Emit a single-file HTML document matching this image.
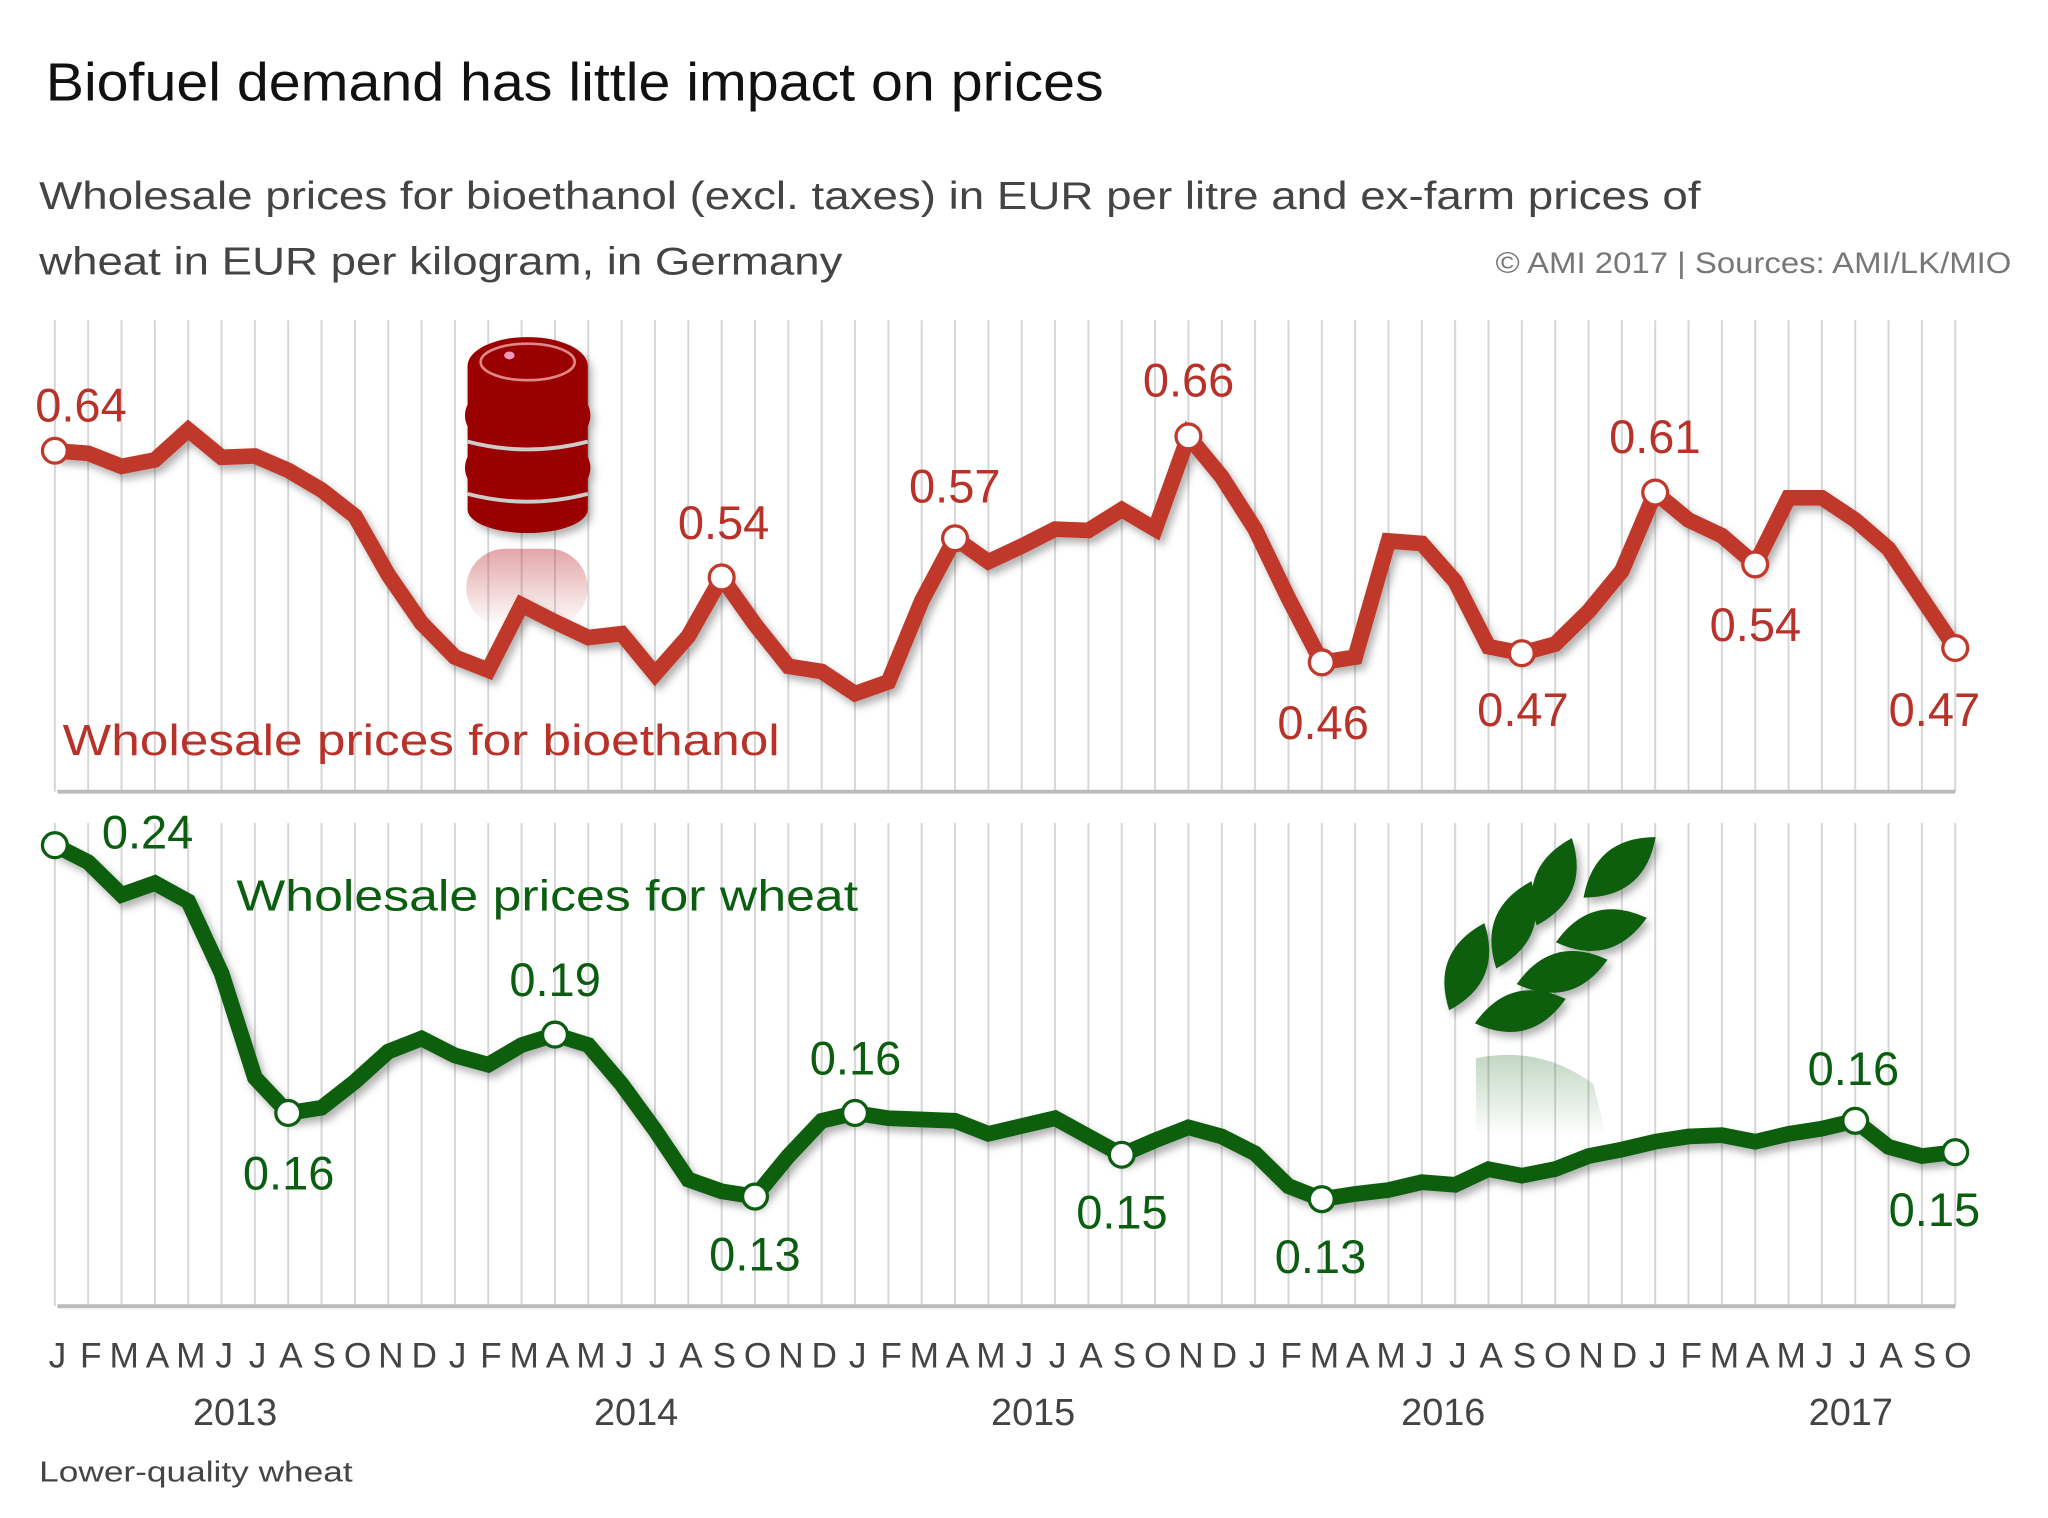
<!DOCTYPE html>
<html><head><meta charset="utf-8"><style>
html,body{margin:0;padding:0;background:#fff}
svg{display:block}
text{font-family:"Liberation Sans","DejaVu Sans",sans-serif}
</style></head><body>
<svg width="2048" height="1518" viewBox="0 0 1568 1162" xmlns="http://www.w3.org/2000/svg">
<defs>
<filter id="sh" x="-10%" y="-10%" width="130%" height="140%"><feDropShadow dx="3" dy="4" stdDeviation="3" flood-color="#000" flood-opacity="0.3"/></filter>
<linearGradient id="fadeR" x1="0" y1="0" x2="0" y2="1"><stop offset="0" stop-color="#c0393b" stop-opacity="0.45"/><stop offset="1" stop-color="#c0393b" stop-opacity="0"/></linearGradient>
<linearGradient id="fadeG" x1="0" y1="0" x2="0" y2="1"><stop offset="0" stop-color="#0b5e10" stop-opacity="0.25"/><stop offset="1" stop-color="#0b5e10" stop-opacity="0"/></linearGradient>
</defs>
<rect width="1568" height="1162" fill="#fff"/>
<text x="35" y="77" font-size="41" fill="#111" textLength="810" lengthAdjust="spacingAndGlyphs">Biofuel demand has little impact on prices</text>
<text x="30" y="160" font-size="30" fill="#444" textLength="1272" lengthAdjust="spacingAndGlyphs">Wholesale prices for bioethanol (excl. taxes) in EUR per litre and ex-farm prices of</text>
<text x="30" y="210" font-size="30" fill="#444" textLength="615" lengthAdjust="spacingAndGlyphs">wheat in EUR per kilogram, in Germany</text>
<text x="1540" y="209" font-size="23" fill="#777" text-anchor="end" textLength="395" lengthAdjust="spacingAndGlyphs">© AMI 2017 | Sources: AMI/LK/MIO</text>
<g id="grid" stroke="#d6d6d6" stroke-width="1.5"></g>
<line x1="44" y1="606" x2="1497" y2="606" stroke="#bbb" stroke-width="3"/>
<line x1="44" y1="1000" x2="1497" y2="1000" stroke="#bbb" stroke-width="3"/>
<g>
<rect x="357" y="420" width="93" height="60" rx="30" fill="url(#fadeR)"/>
<g filter="url(#sh)" fill="#9b0000">
<ellipse cx="404" cy="280" rx="46" ry="22"/>
<rect x="358" y="280" width="92" height="110" />
<ellipse cx="404" cy="390" rx="46" ry="18"/>
<rect x="356" y="300" width="96" height="36" rx="18"/>
<rect x="356" y="340" width="96" height="36" rx="18"/>
</g>
<ellipse cx="404" cy="277" rx="36" ry="14" fill="none" stroke="#d88" stroke-width="2"/>
<ellipse cx="390" cy="272" rx="4" ry="3" fill="#e9b"/>
<path d="M358 338 Q404 350 450 338" stroke="#ccc" stroke-width="3" fill="none"/>
<path d="M358 378 Q404 390 450 378" stroke="#ccc" stroke-width="3" fill="none"/>
</g>
<g>
<path d="M1130,810 Q1180,800 1220,830 L1230,870 L1130,870Z" fill="url(#fadeG)"/>
<g fill="#0b5e10" filter="url(#sh)">
<path d="M-36,0 Q0,-30 36,0 Q0,30 -36,0Z" transform="translate(1123,740) rotate(-68)"/>
<path d="M-36,0 Q0,-30 36,0 Q0,30 -36,0Z" transform="translate(1159,708) rotate(-68)"/>
<path d="M-36,0 Q0,-30 36,0 Q0,30 -36,0Z" transform="translate(1190,675) rotate(-68)"/>
<path d="M-36,0 Q0,-30 36,0 Q0,30 -36,0Z" transform="translate(1240,664) rotate(-40)"/>
<path d="M-36,0 Q0,-30 36,0 Q0,30 -36,0Z" transform="translate(1226,712) rotate(-15)"/>
<path d="M-36,0 Q0,-30 36,0 Q0,30 -36,0Z" transform="translate(1196,744) rotate(-15)"/>
<path d="M-36,0 Q0,-30 36,0 Q0,30 -36,0Z" transform="translate(1164,774) rotate(-15)"/>
</g>
</g>
<g id="lines"></g>
<g font-size="36" fill="#b8322a" text-anchor="middle" dominant-baseline="central">
<text x="62" y="310">0.64</text><text x="554" y="400">0.54</text><text x="731" y="372">0.57</text>
<text x="910" y="291">0.66</text><text x="1013" y="553">0.46</text><text x="1166" y="543">0.47</text>
<text x="1267" y="334">0.61</text><text x="1344" y="478">0.54</text><text x="1481" y="543">0.47</text>
</g>
<text x="48" y="578" font-size="33" fill="#b8322a" textLength="549" lengthAdjust="spacingAndGlyphs">Wholesale prices for bioethanol</text>
<g font-size="36" fill="#0b5e10" text-anchor="middle" dominant-baseline="central">
<text x="113" y="637">0.24</text><text x="221" y="898">0.16</text><text x="425" y="750">0.19</text>
<text x="578" y="960">0.13</text><text x="655" y="810">0.16</text><text x="859" y="928">0.15</text>
<text x="1011" y="962">0.13</text><text x="1419" y="818">0.16</text><text x="1481" y="926">0.15</text>
</g>
<text x="181" y="697" font-size="33" fill="#0b5e10" textLength="476" lengthAdjust="spacingAndGlyphs">Wholesale prices for wheat</text>
<g id="months" font-size="27" fill="#444" text-anchor="middle"></g>
<g font-size="29" fill="#444" text-anchor="middle">
<text x="180" y="1091">2013</text><text x="487" y="1091">2014</text><text x="791" y="1091">2015</text><text x="1105" y="1091">2016</text><text x="1417" y="1091">2017</text>
</g>
<text x="30" y="1134" font-size="22" fill="#444" textLength="240" lengthAdjust="spacingAndGlyphs">Lower-quality wheat</text>
</svg>
<script>
var NS="http://www.w3.org/2000/svg";
function X(i){return 42+i*25.526;}
var g=document.getElementById('grid');
for(var i=0;i<58;i++){
 [[245,606],[630,1000]].forEach(function(r){var l=document.createElementNS(NS,'line');l.setAttribute('x1',X(i));l.setAttribute('x2',X(i));l.setAttribute('y1',r[0]);l.setAttribute('y2',r[1]);g.appendChild(l);});
}
var m="JFMAMJJASOND",mg=document.getElementById('months');
for(var i=0;i<58;i++){var t=document.createElementNS(NS,'text');t.setAttribute('x',X(i)+2);t.setAttribute('y',1047);t.textContent=m[i%12];mg.appendChild(t);}
var bio=[345,347,357,352,329,350,349,360,375,395,440,477,503,513,463,476,488,485,516,487,442,478,510,514,531,522,460,412,430,418,405,406,390,405,334,365,405,458,507,503,414,416,445,495,500,493,468,437,377,398,410,432,381,381,398,420,458,496];
var wh=[647,660,685,676,690,745,825,852,848,828,805,795,808,815,800,792,800,830,865,903,912,916,885,858,852,856,857,858,868,862,856,870,884,873,863,870,883,908,918,914,911,905,907,895,900,895,885,880,874,870,869,874,868,864,858,878,885,882];
var lg=document.getElementById('lines');
function draw(d,col,marks){
 var p=d.map(function(y,i){return X(i)+','+y;}).join(' ');
 var pl=document.createElementNS(NS,'polyline');pl.setAttribute('points',p);pl.setAttribute('fill','none');pl.setAttribute('stroke',col);pl.setAttribute('stroke-width','12');pl.setAttribute('stroke-linejoin','miter');pl.setAttribute('filter','url(#sh)');lg.appendChild(pl);
 marks.forEach(function(i){var c=document.createElementNS(NS,'circle');c.setAttribute('cx',X(i));c.setAttribute('cy',d[i]);c.setAttribute('r',9.5);c.setAttribute('fill','#fff');c.setAttribute('stroke',col);c.setAttribute('stroke-width','2.5');lg.appendChild(c);});
}
draw(bio,'#c0392b',[0,20,27,34,38,44,48,51,57]);
draw(wh,'#0b5e10',[0,7,15,21,24,32,38,54,57]);
</script>
</body></html>
